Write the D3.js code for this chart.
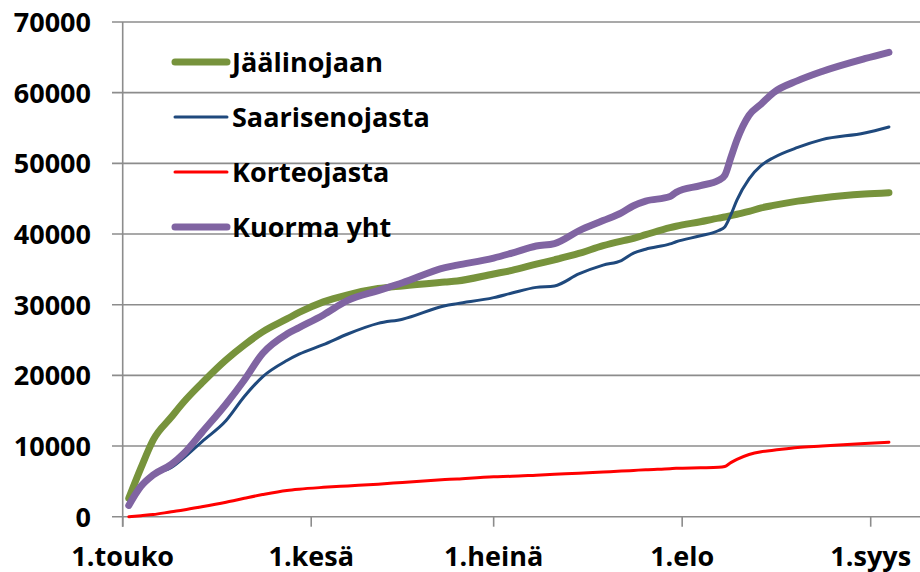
<!DOCTYPE html>
<html lang="fi">
<head>
    <meta charset="UTF-8">
    <title>Kuormitus</title>
    <style>
        body { margin: 0; background: #fff; }
        text { font-family: "Open Sans", Lato, sans-serif; font-weight: 700; fill: #000; }
    </style>
</head>
<body>
<script src="https://d3js.org/d3.v7.min.js"></script>
<script>
    // dates of the readings
    var dates = ["2012-05-02", "2012-05-04", "2012-05-06", "2012-05-09", "2012-05-11", "2012-05-14",
        "2012-05-18", "2012-05-21", "2012-05-24", "2012-05-28", "2012-05-30", "2012-06-03",
        "2012-06-07", "2012-06-12", "2012-06-16", "2012-06-23", "2012-06-25", "2012-07-01",
        "2012-07-04", "2012-07-08", "2012-07-11", "2012-07-15", "2012-07-19", "2012-07-22",
        "2012-07-24", "2012-07-26", "2012-07-30", "2012-07-31", "2012-08-04", "2012-08-07",
        "2012-08-08", "2012-08-09", "2012-08-10", "2012-08-12", "2012-08-14", "2012-08-16",
        "2012-08-20", "2012-08-24", "2012-08-31", "2012-09-04"];

    var jaalinojaan = [2600, 6900, 10850, 14100, 16200, 18900, 22200, 24300, 26150, 27980, 28900, 30400,
        31400, 32280, 32650, 33200, 33350, 34350, 34850, 35730, 36350, 37250, 38350, 39000,
        39390, 39900, 40900, 41100, 41740, 42250, 42400, 42600, 42800, 43200, 43700, 44050,
        44650, 45100, 45650, 45850];

    var saarisenojasta = [2100, 4400, 5900, 6950, 8300, 10600, 13600, 17000, 19800, 22100, 23000, 24350,
        25850, 27350, 27950, 29850, 30150, 31000, 31650, 32450, 32650, 34350, 35600, 36250,
        37300, 37850, 38600, 38900, 39750, 40500, 41000, 42700, 44800, 47800, 49700, 50800,
        52250, 53350, 54300, 55150];

    var korteojasta = [0, 150, 300, 700, 950, 1400, 2050, 2600, 3130, 3720, 3900, 4150,
        4350, 4600, 4850, 5250, 5350, 5650, 5720, 5880, 6000, 6150, 6330, 6450,
        6550, 6650, 6800, 6850, 6920, 6980, 7100, 7650, 8100, 8800, 9200, 9400,
        9800, 10000, 10350, 10530];

    var kuormaYht = [1600, 4300, 5900, 7400, 8900, 11900, 15950, 19350, 23100, 25850, 26750, 28550,
        30600, 32000, 33100, 35250, 35600, 36600, 37300, 38300, 38650, 40450, 41900, 43000,
        44000, 44650, 45300, 45900, 46850, 47600, 48300, 50800, 53300, 56800, 58400, 60000,
        61700, 63000, 64800, 65700];

    var tickDates = ["2012-05-01", "2012-06-01", "2012-07-01", "2012-08-01", "2012-09-01"];
    var tickLabels = ["1.touko", "1.kesä", "1.heinä", "1.elo", "1.syys"];
    var yTicks = [0, 10000, 20000, 30000, 40000, 50000, 60000, 70000];

    var parse = d3.utcParse("%Y-%m-%d");

    var series = [
        {name: "Jäälinojaan", values: jaalinojaan, color: "#77933C", width: 7},
        {name: "Saarisenojasta", values: saarisenojasta, color: "#1F497D", width: 3},
        {name: "Korteojasta", values: korteojasta, color: "#FF0000", width: 3},
        {name: "Kuorma yht", values: kuormaYht, color: "#8064A2", width: 7}
    ];

    const width = 920;
    const height = 572;

    const svg = d3.select("body")
        .append("svg")
        .attr("width", width)
        .attr("height", height);

    var x = d3.scaleUtc()
        .domain([parse(tickDates[0]), parse(tickDates[4])])
        .range([122.7, 870.7]);
    var y = d3.scaleLinear()
        .domain([0, 70000])
        .range([516.7, 22]);

    // horizontal gridlines
    svg.append("g")
        .selectAll("line")
        .data(yTicks)
        .enter()
        .append("line")
        .attr("x1", 112)
        .attr("x2", width)
        .attr("y1", d => y(d))
        .attr("y2", d => y(d))
        .attr("stroke", "#8c8c8c")
        .attr("stroke-width", 1.6);

    // y axis line
    svg.append("line")
        .attr("x1", x(parse(tickDates[0])))
        .attr("x2", x(parse(tickDates[0])))
        .attr("y1", y(70000))
        .attr("y2", y(0) + 10)
        .attr("stroke", "#8c8c8c")
        .attr("stroke-width", 1.6);

    // y labels
    svg.append("g")
        .selectAll("text")
        .data(yTicks)
        .enter()
        .append("text")
        .attr("x", 91)
        .attr("y", d => y(d) + 10)
        .attr("text-anchor", "end")
        .style("font-size", "27px")
        .text(d => d);

    // x ticks and labels
    var xt = svg.append("g")
        .selectAll("g")
        .data(tickDates)
        .enter()
        .append("g")
        .attr("transform", d => "translate(" + x(parse(d)) + ",0)");
    xt.append("line")
        .attr("y1", y(0))
        .attr("y2", y(0) + 10)
        .attr("stroke", "#8c8c8c")
        .attr("stroke-width", 1.6);
    xt.append("text")
        .attr("y", 566)
        .attr("text-anchor", "middle")
        .style("font-size", "27px")
        .text((d, i) => tickLabels[i]);

    // lines
    var line = d3.line()
        .x((d, i) => x(parse(dates[i])))
        .y(d => y(d))
        .curve(d3.curveMonotoneX);

    svg.append("g")
        .selectAll("path")
        .data(series)
        .enter()
        .append("path")
        .attr("d", d => line(d.values))
        .attr("fill", "none")
        .attr("stroke", d => d.color)
        .attr("stroke-width", d => d.width)
        .attr("stroke-linecap", "round")
        .attr("stroke-linejoin", "round");

    // legend
    var leg = svg.append("g")
        .selectAll("g")
        .data(series)
        .enter()
        .append("g")
        .attr("transform", (d, i) => "translate(0," + (62 + i * 55) + ")");
    leg.append("line")
        .attr("x1", 175)
        .attr("x2", 227)
        .attr("stroke", d => d.color)
        .attr("stroke-width", d => d.width)
        .attr("stroke-linecap", "round");
    leg.append("text")
        .attr("x", 232)
        .attr("y", 10)
        .style("font-size", "27px")
        .text(d => d.name);
</script>
</body>
</html>
